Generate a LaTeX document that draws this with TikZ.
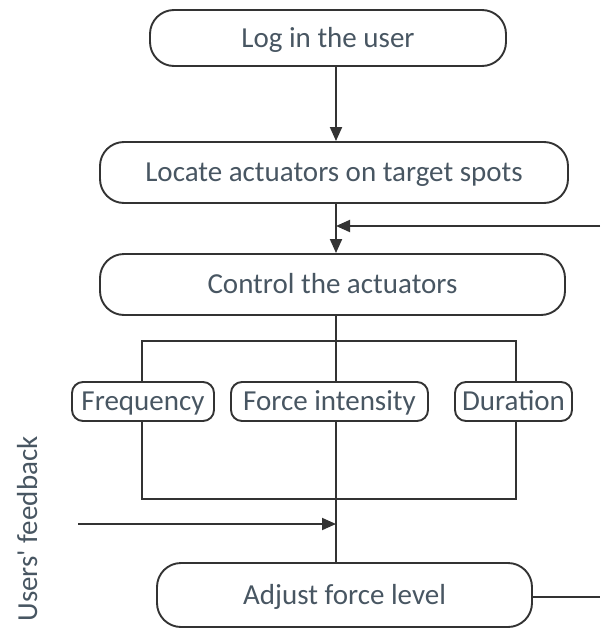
\documentclass[tikz,border=0pt]{standalone}
\usepackage{fontspec}
\setmainfont{Carlito}
\usetikzlibrary{arrows.meta}
\definecolor{txt}{RGB}{72,86,98}
\definecolor{ln}{RGB}{51,51,51}
\tikzset{
  lbl/.style={text=txt, font=\fontsize{29}{33}\selectfont, text height=18.4pt, text depth=0pt},
  box/.style={lbl, draw=ln, line width=1.9pt, rounded corners=24pt, inner sep=0pt},
  sbox/.style={lbl, draw=ln, line width=1.9pt, rounded corners=11pt, inner sep=0pt, minimum height=39pt},
  conn/.style={draw=ln, line width=1.9pt},
  arr/.style={conn, -{Triangle[length=14pt,width=12pt]}},
}
\begin{document}
\begin{tikzpicture}[x=1pt,y=-1pt]
\useasboundingbox (0,0) rectangle (600,632);
\coordinate (sp) at (336,0);
\node[box, minimum width=356pt, minimum height=56pt] (login) at (328,38) {Log in the user};
\node[box, minimum width=468pt, minimum height=61pt] (locate) at (334,172.5) {Locate actuators on target spots};
\node[box, minimum width=465pt, minimum height=61pt] (control) at (332.5,284.5) {Control the actuators};
\node[sbox, minimum width=142pt] (freq) at (143,401.5) {Frequency};
\node[sbox, minimum width=197pt] (force) at (329.5,401.5) {Force intensity};
\node[sbox, minimum width=117pt] (dur) at (513.5,401.5) {Duration};
\node[box, minimum width=375pt, minimum height=64pt] (adjust) at (344.5,595) {Adjust force level};
\node[lbl, rotate=90, inner sep=0pt] (fb) at (28,529) {Users\textquotesingle\ feedback};
\coordinate (loopin) at (600,226);
\coordinate (loopout) at (600,597);
\coordinate (fbstart) at (78,524);
\coordinate (bl) at (142,341);
\coordinate (br) at (516,341);
\coordinate (bbl) at (142,499);
\coordinate (bbr) at (516,499);
\draw[arr] (login.south -| sp) -- (locate.north -| sp);
\draw[arr] (locate.south -| sp) -- (control.north -| sp);
\draw[arr] (loopin) -- (loopin -| sp);
\draw[conn] (control.south -| sp) -- (force.north -| sp);
\draw[conn] (freq.north -| bl) -- (bl) -- (br) -- (dur.north -| br);
\draw[conn] (freq.south -| bbl) -- (bbl) -- (bbr) -- (dur.south -| bbr);
\draw[conn] (force.south -| sp) -- (adjust.north -| sp);
\draw[arr] (fbstart) -- (fbstart -| sp);
\draw[conn] (adjust.east |- loopout) -- (loopout);
\end{tikzpicture}
\end{document}
